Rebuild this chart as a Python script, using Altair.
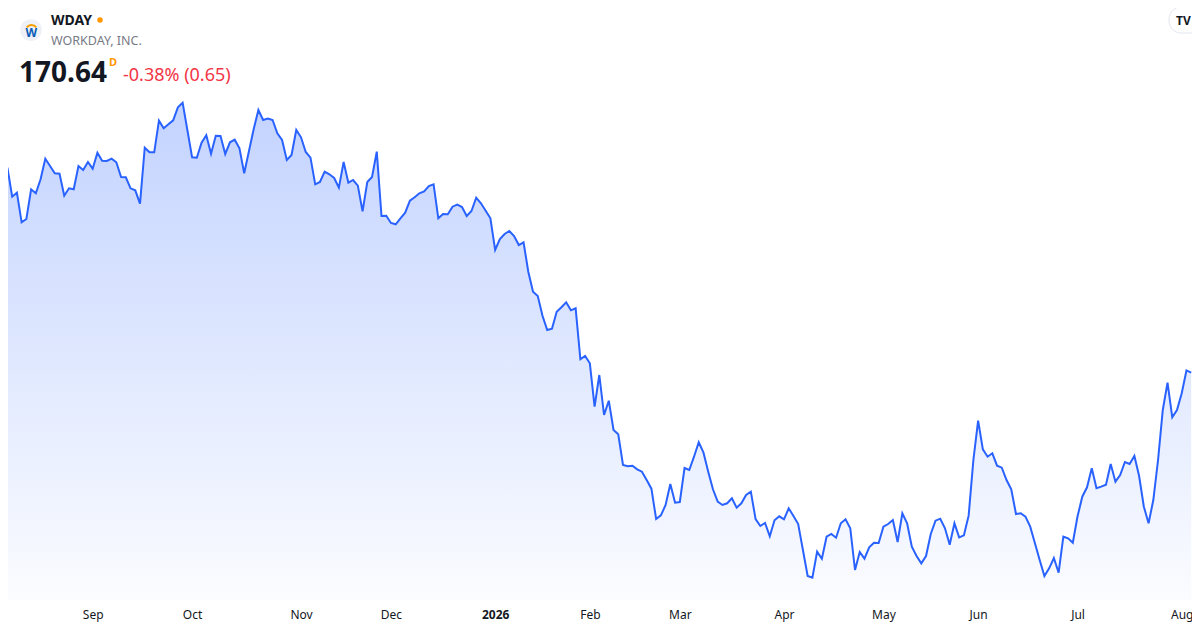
import altair as alt
import pandas as pd

# WDAY daily closes, one bar per trading day
closes = [
    226.03, 230.09, 221.68, 222.84, 214.25, 215.21, 223.82, 222.66, 226.72, 232.70,
    230.58, 228.46, 228.35, 221.97, 224.11, 223.82, 230.58, 229.42, 231.74, 229.80,
    234.44, 232.12, 232.03, 232.70, 231.65, 227.39, 227.30, 224.11, 223.53, 219.65,
    235.89, 234.55, 234.55, 243.72, 241.51, 242.67, 243.83, 247.60, 248.94, 241.02,
    233.10, 232.99, 237.34, 239.48, 234.15, 239.37, 239.28, 234.06, 237.45, 238.21,
    235.71, 228.46, 234.84, 241.22, 246.82, 243.92, 244.35, 243.92, 240.06, 238.12,
    232.32, 233.77, 241.02, 238.90, 234.64, 232.99, 225.27, 225.94, 228.93, 228.17,
    227.10, 224.29, 231.74, 225.74, 226.52, 224.87, 217.44, 225.94, 227.39, 234.73,
    216.08, 216.17, 214.05, 213.67, 215.41, 217.04, 220.52, 221.50, 222.66, 223.24,
    224.78, 225.27, 215.41, 216.66, 216.57, 218.78, 219.36, 218.69, 216.08, 217.53,
    221.39, 219.76, 217.62, 215.41, 206.22, 209.41, 210.86, 211.73, 210.28, 207.67,
    208.45, 199.93, 194.13, 192.88, 187.17, 183.02, 183.40, 188.33, 189.60, 191.05,
    188.73, 189.31, 174.52, 175.48, 173.36, 160.78, 169.97, 158.37, 162.52, 154.02,
    152.77, 143.87, 143.49, 143.67, 142.62, 141.93, 139.52, 137.00, 128.21, 129.28,
    132.27, 138.36, 132.94, 133.14, 143.00, 142.42, 146.28, 150.45, 147.44, 141.93,
    136.82, 133.23, 132.27, 132.76, 134.21, 131.49, 132.76, 135.17, 136.13, 128.21,
    126.18, 127.05, 123.19, 127.83, 128.99, 128.12, 131.31, 129.08, 126.76, 119.22,
    111.68, 111.19, 118.73, 116.70, 123.08, 123.86, 122.79, 126.96, 128.12, 125.51,
    113.42, 118.64, 116.70, 120.00, 121.34, 121.25, 125.98, 126.76, 127.92, 121.54,
    129.86, 126.96, 120.18, 117.48, 115.36, 117.48, 123.86, 127.72, 128.30, 125.51,
    120.76, 126.96, 122.90, 123.48, 129.17, 145.32, 156.72, 148.42, 146.28, 147.26,
    143.67, 143.09, 139.52, 136.82, 129.66, 129.86, 128.88, 125.98, 121.16, 116.32,
    111.68, 113.91, 116.90, 112.64, 123.08, 122.61, 121.34, 128.99, 134.68, 137.40,
    142.91, 137.11, 137.58, 138.16, 144.16, 139.03, 140.97, 144.74, 144.16, 146.48,
    140.68, 131.78, 126.96, 133.72, 145.32, 159.82, 167.74, 157.70, 159.82, 164.66,
    171.29, 170.64,
]

# bar index of the first trading day of each month, and its label
month_starts = [19, 40, 63, 82, 104, 124, 143, 165, 186, 206, 227, 249]
month_labels = ['Sep', 'Oct', 'Nov', 'Dec', '2026', 'Feb', 'Mar', 'Apr', 'May', 'Jun', 'Jul', 'Aug']
year_label_bar = 104

ticker = 'WDAY'
company = 'WORKDAY, INC.'
last_price = '170.64'
change = '-0.38% (0.65)'

FONT = 'Noto Sans'
BLUE = '#2962ff'
W, H = 1184, 592
Y_LO, Y_HI = 104.72, 276.40

df = pd.DataFrame({'bar': list(range(len(closes))), 'close': closes})

label_expr = '[{}][indexof([{}], datum.value)]'.format(
    ', '.join("'%s'" % m for m in month_labels),
    ', '.join(str(b) for b in month_starts))

x_enc = alt.X('bar:Q', title=None,
              scale=alt.Scale(domain=[1.12, 251.17], nice=False, zero=False),
              axis=alt.Axis(values=month_starts, labelExpr=label_expr,
                            labelFontWeight={'condition': {'test': 'datum.value == %d' % year_label_bar,
                                                           'value': 'bold'},
                                             'value': 'normal'},
                            domain=False, ticks=False, grid=False,
                            labelPadding=9, labelFlush=False, labelOverlap=False,
                            labelFont=FONT, labelFontSize=12, labelColor='#131722'))
y_enc = alt.Y('close:Q', axis=None,
              scale=alt.Scale(domain=[Y_LO, Y_HI], nice=False, zero=False))

base = alt.Chart(df)

area = base.mark_area(clip=True, color=alt.Gradient(
    gradient='linear', x1=1, x2=1, y1=0, y2=1,
    stops=[alt.GradientStop(color='rgba(41,98,255,0.28)', offset=0),
           alt.GradientStop(color='rgba(41,98,255,0.02)', offset=1)])
).encode(x=x_enc, y=y_enc, y2=alt.datum(Y_LO))

line = base.mark_line(clip=True, color=BLUE, strokeWidth=2).encode(x=x_enc, y=y_enc)


def label(text, x, y, **kw):
    return alt.Chart(pd.DataFrame({'t': [text]})).mark_text(
        align='left', baseline='alphabetic', font=FONT, **kw
    ).encode(text='t:N', x=alt.value(x), y=alt.value(y))


one = pd.DataFrame({'k': [0]})

logo_bg = alt.Chart(one).mark_point(filled=True, shape='circle', size=470, color='#eef1f7', opacity=1).encode(
    x=alt.value(23), y=alt.value(22))
logo_arc = alt.Chart(one).mark_arc(radius=7, radius2=5, theta=5.35, theta2=7.22, color='#f5a000').encode(
    x=alt.value(23.5), y=alt.value(23))
logo_w = label('W', 17.5, 29, fontSize=12, fontWeight='bold', color='#0a5cb8')

dot = alt.Chart(one).mark_point(filled=True, shape='circle', size=30, color='#ff9800', opacity=1).encode(
    x=alt.value(92), y=alt.value(12))

badge = alt.Chart(one).mark_rect(cornerRadius=12, fill='white', stroke='#e3e6ec', strokeWidth=1).encode(
    x=alt.value(1161), x2=alt.value(1210), y=alt.value(-1), y2=alt.value(25))

texts = [
    label(ticker, 43, 17, fontSize=14, fontWeight='bold', color='#131722'),
    label(company, 43, 37, fontSize=12.5, color='#787b86'),
    label(last_price, 11, 74, fontSize=28, fontWeight='bold', color='#131722'),
    label('D', 101, 58, fontSize=11, fontWeight='bold', color='#ff9800'),
    label(change, 115, 73, fontSize=18, color='#f23645'),
    label('TV', 1168, 17, fontSize=12, fontWeight='bold', color='#131722'),
]

chart = alt.layer(area, line, logo_bg, logo_arc, logo_w, dot, badge, *texts).properties(
    width=W, height=H,
    autosize=alt.AutoSizeParams(type='none'),
    padding={'left': 0, 'top': 0, 'right': 0, 'bottom': 22},
    background='white',
).configure_view(strokeWidth=0)

chart.save('out.html', embed_options={'renderer': 'svg', 'actions': False})
